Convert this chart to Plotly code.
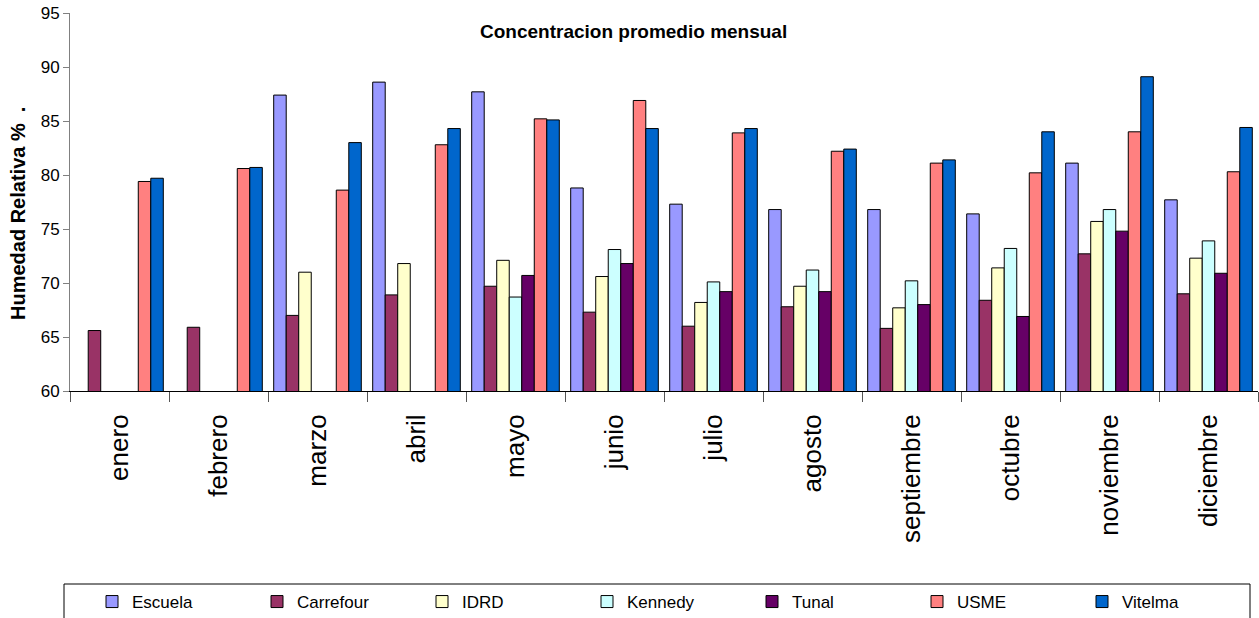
import plotly.graph_objects as go

months = ["enero", "febrero", "marzo", "abril", "mayo", "junio", "julio",
          "agosto", "septiembre", "octubre", "noviembre", "diciembre"]

escuela   = [None, None, 87.4, 88.6, 87.7, 78.8, 77.3, 76.8, 76.8, 76.4, 81.1, 77.7]
carrefour = [65.6, 65.9, 67.0, 68.9, 69.7, 67.3, 66.0, 67.8, 65.8, 68.4, 72.7, 69.0]
idrd      = [None, None, 71.0, 71.8, 72.1, 70.6, 68.2, 69.7, 67.7, 71.4, 75.7, 72.3]
kennedy   = [None, None, None, None, 68.7, 73.1, 70.1, 71.2, 70.2, 73.2, 76.8, 73.9]
tunal     = [None, None, None, None, 70.7, 71.8, 69.2, 69.2, 68.0, 66.9, 74.8, 70.9]
usme      = [79.4, 80.6, 78.6, 82.8, 85.2, 86.9, 83.9, 82.2, 81.1, 80.2, 84.0, 80.3]
vitelma   = [79.7, 80.7, 83.0, 84.3, 85.1, 84.3, 84.3, 82.4, 81.4, 84.0, 89.1, 84.4]

series_names = ["Escuela", "Carrefour", "IDRD", "Kennedy", "Tunal", "USME", "Vitelma"]
series_values = [escuela, carrefour, idrd, kennedy, tunal, usme, vitelma]
series_colors = ["#9999FF", "#993366", "#FFFFCC", "#CCFFFF", "#660066", "#FF8080", "#0066CC"]

y_ticks = [60, 65, 70, 75, 80, 85, 90, 95]

fig = go.Figure()
for name, vals, col in zip(series_names, series_values, series_colors):
    fig.add_trace(go.Bar(
        x=months, y=vals, name=name,
        marker=dict(color=col, line=dict(color="black", width=1)),
    ))

W, H = 1259, 618
ml, mr, mt, mb = 70, 1, 13, 227
pw = W - ml - mr
ph = H - mt - mb

def px_x(p):
    return (p - ml) / pw

def px_y(p):
    return (H - mb - p) / ph

fig.update_layout(
    width=W, height=H,
    margin=dict(l=ml, r=mr, t=mt, b=mb, autoexpand=False),
    paper_bgcolor="white", plot_bgcolor="white",
    barmode="group", bargap=0.115, bargroupgap=0,
    font=dict(family="Liberation Sans, Arial, sans-serif", color="black"),
    showlegend=True,
    legend=dict(
        orientation="h",
        x=px_x(92), xanchor="left",
        y=px_y(584), yanchor="top",
        font=dict(size=17),
        entrywidth=120, entrywidthmode="pixels",
        itemwidth=30,
        bgcolor="rgba(0,0,0,0)",
        traceorder="normal",
    ),
    xaxis=dict(
        type="category", automargin=False,
        showline=True, linecolor="black", linewidth=1,
        ticks="outside", tickson="boundaries", ticklen=10, tickcolor="#555555",
        tickangle=-90, ticklabelstandoff=12,
        tickfont=dict(size=26),
        showgrid=False,
    ),
    yaxis=dict(
        range=[60, 95], automargin=False,
        tickvals=y_ticks,
        showline=True, linecolor="#808080", linewidth=1,
        ticks="outside", ticklen=6, tickcolor="#808080",
        tickfont=dict(size=17),
        showgrid=False, zeroline=False,
    ),
    shapes=[dict(
        type="rect", xref="paper", yref="paper",
        x0=px_x(64), x1=px_x(1250), y0=px_y(584), y1=px_y(625),
        line=dict(color="black", width=1), fillcolor="rgba(0,0,0,0)",
    )],
    annotations=[
        dict(text="<b>Concentracion promedio mensual</b>", xref="paper", yref="paper",
             x=px_x(633), y=px_y(31), xanchor="center", yanchor="middle",
             showarrow=False, font=dict(size=19)),
        dict(text="<b>Humedad Relativa %  .</b>", xref="paper", yref="paper",
             x=px_x(18), y=px_y(214), xanchor="center", yanchor="middle",
             textangle=-90, showarrow=False, font=dict(size=20)),
    ],
)

fig.write_html(
    "out.html",
    config={"displayModeBar": False},
    post_script="document.body.style.margin='0';document.body.style.overflow='hidden';",
)
